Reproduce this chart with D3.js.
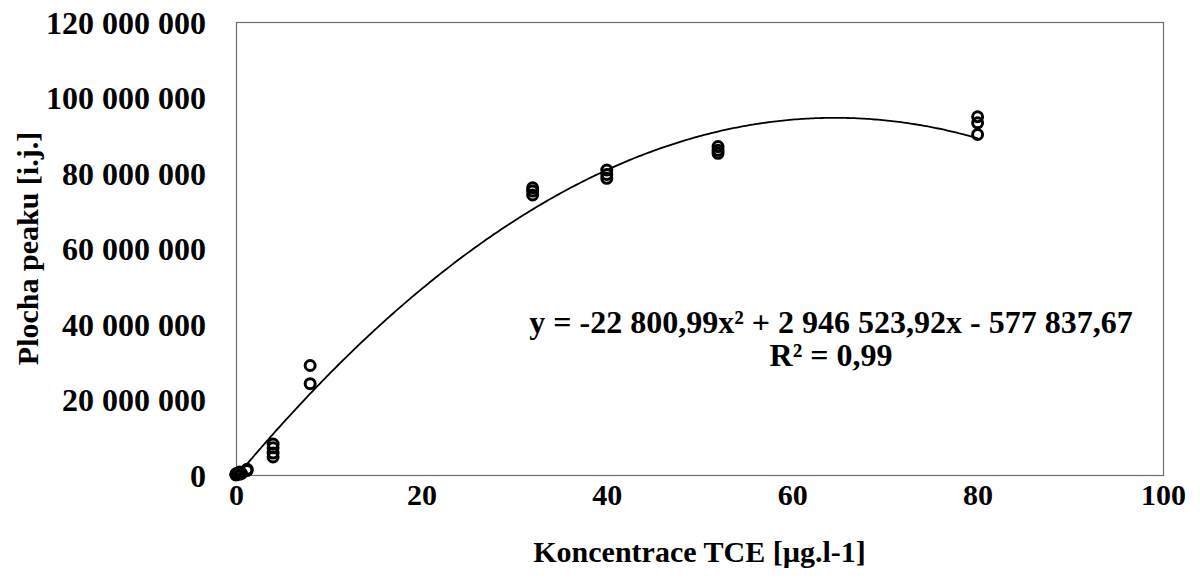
<!DOCTYPE html>
<html>
<head>
<meta charset="utf-8">
<script src="https://cdn.jsdelivr.net/npm/d3@7"></script>
<style>
  html, body { margin: 0; padding: 0; background: #fff; }
  svg { display: block; }
  text { font-family: "Liberation Serif", "Times New Roman", serif; font-weight: bold; fill: #000; }
</style>
</head>
<body>
<svg id="chart" width="1200" height="579"></svg>
<script>
// Measured concentrations (µg/l) and peak areas
const concentrations = [0, 0, 0, 0.2, 0.4, 0.4, 0.6, 1.2, 1.2,
  4, 4, 4, 4,
  8, 8,
  32, 32, 32,
  40, 40, 40,
  52, 52, 52,
  80, 80, 80];
const peakAreas = [0, 100000, 300000, 500000, 200000, 800000, 400000, 1500000, 1200000,
  8200000, 7200000, 5800000, 4800000,
  29000000, 24200000,
  76100000, 75200000, 74200000,
  80800000, 79600000, 78600000,
  87000000, 86000000, 85200000,
  94900000, 93300000, 90200000];

// Quadratic trendline coefficients: y = a·x² + b·x + c
const coefA = -22800.99;
const coefB = 2946523.92;
const coefC = -577837.67;
const trendRange = [0, 80];

const xTicks = [0, 20, 40, 60, 80, 100];
const yTicks = [0, 20000000, 40000000, 60000000, 80000000, 100000000, 120000000];

const equationText = "y = -22 800,99x² + 2 946 523,92x - 577 837,67";
const r2Text = "R² = 0,99";
const xTitle = "Koncentrace TCE [µg.l-1]";
const yTitle = "Plocha peaku [i.j.]";

const svg = d3.select("#chart");
const plot = { left: 236, right: 1163, top: 22, bottom: 475 };

const x = d3.scaleLinear().domain([0, 100]).range([plot.left, plot.right]);
const y = d3.scaleLinear().domain([0, 120000000]).range([plot.bottom, plot.top]);

const locale = d3.formatLocale({ decimal: ",", thousands: "\u00a0", grouping: [3], currency: ["", ""] });
const fmtY = locale.format(",.0f");

// Plot frame
svg.append("rect")
  .attr("x", plot.left + 0.5).attr("y", plot.top + 0.5)
  .attr("width", plot.right - plot.left).attr("height", plot.bottom - plot.top)
  .attr("fill", "none").attr("stroke", "#6e6e6e").attr("stroke-width", 1.2);

// Axes (labels only, no tick marks)
const yAxis = svg.append("g")
  .attr("transform", `translate(${plot.left},0)`)
  .call(d3.axisLeft(y).tickValues(yTicks).tickFormat(fmtY).tickSize(0).tickPadding(30));
yAxis.select(".domain").remove();
yAxis.selectAll("text").attr("font-size", 32).attr("dy", "0.35em")
  .style("font-family", "'Liberation Serif', serif").style("font-weight", "bold");

const xAxis = svg.append("g")
  .attr("transform", `translate(0,${plot.bottom})`)
  .call(d3.axisBottom(x).tickValues(xTicks).tickFormat(d3.format("d")).tickSize(0).tickPadding(9));
xAxis.select(".domain").remove();
xAxis.selectAll("text").attr("font-size", 30)
  .style("font-family", "'Liberation Serif', serif").style("font-weight", "bold");

// Trendline
const trendPts = d3.range(trendRange[0], trendRange[1] + 0.001, 0.25)
  .map(v => [v, coefA * v * v + coefB * v + coefC]);
svg.append("path")
  .datum(trendPts)
  .attr("fill", "none").attr("stroke", "#000").attr("stroke-width", 1.8)
  .attr("d", d3.line().x(d => x(d[0])).y(d => y(d[1])));

// Measured points
svg.append("g").selectAll("circle")
  .data(concentrations.map((c, i) => [c, peakAreas[i]]))
  .join("circle")
  .attr("cx", d => x(d[0])).attr("cy", d => y(d[1]))
  .attr("r", 5)
  .attr("fill", "none").attr("stroke", "#000").attr("stroke-width", 3);

// Trendline equation
svg.append("text").attr("x", 831).attr("y", 333).attr("text-anchor", "middle")
  .attr("font-size", 32).text(equationText);
svg.append("text").attr("x", 831).attr("y", 366).attr("text-anchor", "middle")
  .attr("font-size", 32).text(r2Text);

// Axis titles
svg.append("text").attr("x", (plot.left + plot.right) / 2).attr("y", 562)
  .attr("text-anchor", "middle").attr("font-size", 30).text(xTitle);
svg.append("text")
  .attr("transform", `translate(38,${(plot.top + plot.bottom) / 2}) rotate(-90)`)
  .attr("text-anchor", "middle").attr("font-size", 30).text(yTitle);
</script>
</body>
</html>
